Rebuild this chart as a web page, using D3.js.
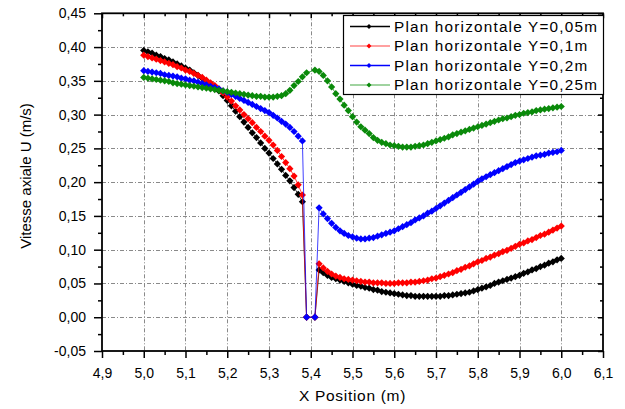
<!DOCTYPE html>
<html>
<head>
<meta charset="utf-8">
<script src="https://cdn.jsdelivr.net/npm/d3@7"></script>
<style>
  body { margin: 0; background: #fff; }
  svg { display: block; }
  text { font-family: "Liberation Sans", Arial, sans-serif; fill: #000; }
</style>
</head>
<body>
<svg id="chart" width="625" height="409"></svg>
<script>
// Measurement positions along X (m); the probe at 5.40 m is not part of the profile.
const xPosition = [
  5.00, 5.01, 5.02, 5.03, 5.04, 5.05, 5.06, 5.07, 5.08, 5.09,
  5.10, 5.11, 5.12, 5.13, 5.14, 5.15, 5.16, 5.17, 5.18, 5.19,
  5.20, 5.21, 5.22, 5.23, 5.24, 5.25, 5.26, 5.27, 5.28, 5.29,
  5.30, 5.31, 5.32, 5.33, 5.34, 5.35, 5.36, 5.37, 5.38, 5.39,
  5.41, 5.42, 5.43, 5.44, 5.45, 5.46, 5.47, 5.48, 5.49,
  5.50, 5.51, 5.52, 5.53, 5.54, 5.55, 5.56, 5.57, 5.58, 5.59,
  5.60, 5.61, 5.62, 5.63, 5.64, 5.65, 5.66, 5.67, 5.68, 5.69,
  5.70, 5.71, 5.72, 5.73, 5.74, 5.75, 5.76, 5.77, 5.78, 5.79,
  5.80, 5.81, 5.82, 5.83, 5.84, 5.85, 5.86, 5.87, 5.88, 5.89,
  5.90, 5.91, 5.92, 5.93, 5.94, 5.95, 5.96, 5.97, 5.98, 5.99,
  6.00
];

// Axial velocity U (m/s) in each horizontal plane
const uY005 = [
  0.395, 0.393, 0.391, 0.388, 0.386, 0.383, 0.381, 0.378, 0.375, 0.372,
  0.369, 0.366, 0.362, 0.358, 0.354, 0.350, 0.345, 0.340, 0.335, 0.328,
  0.321, 0.313, 0.305, 0.297, 0.289, 0.281, 0.273, 0.266, 0.258, 0.250,
  0.243, 0.235, 0.227, 0.219, 0.210, 0.202, 0.192, 0.182, 0.171, 0.000,
  0.000, 0.070, 0.066, 0.062, 0.059, 0.057, 0.055, 0.053, 0.051,
  0.049, 0.047, 0.046, 0.044, 0.043, 0.041, 0.040, 0.038, 0.037, 0.036,
  0.035, 0.034, 0.033, 0.032, 0.032, 0.031, 0.031, 0.031, 0.031, 0.031,
  0.031, 0.031, 0.032, 0.032, 0.033, 0.034, 0.035, 0.036, 0.037, 0.039,
  0.041, 0.043, 0.045, 0.047, 0.050, 0.052, 0.054, 0.056, 0.058, 0.060,
  0.062, 0.065, 0.067, 0.070, 0.072, 0.075, 0.077, 0.080, 0.082, 0.085,
  0.087
];
const uY010 = [
  0.388, 0.386, 0.384, 0.382, 0.380, 0.378, 0.376, 0.374, 0.371, 0.369,
  0.366, 0.364, 0.361, 0.358, 0.355, 0.351, 0.347, 0.343, 0.338, 0.332,
  0.326, 0.320, 0.313, 0.307, 0.300, 0.294, 0.288, 0.281, 0.275, 0.268,
  0.262, 0.255, 0.247, 0.238, 0.229, 0.220, 0.209, 0.196, 0.181, 0.000,
  0.000, 0.079, 0.073, 0.068, 0.064, 0.061, 0.059, 0.057, 0.056,
  0.055, 0.054, 0.053, 0.052, 0.052, 0.051, 0.051, 0.051, 0.050, 0.050,
  0.050, 0.051, 0.051, 0.051, 0.052, 0.052, 0.053, 0.054, 0.055, 0.057,
  0.058, 0.060, 0.062, 0.064, 0.066, 0.069, 0.071, 0.074, 0.076, 0.079,
  0.082, 0.084, 0.087, 0.089, 0.092, 0.094, 0.097, 0.099, 0.102, 0.105,
  0.108, 0.110, 0.113, 0.115, 0.118, 0.121, 0.123, 0.126, 0.129, 0.132,
  0.135
];
const uY020 = [
  0.365, 0.364, 0.363, 0.362, 0.361, 0.359, 0.358, 0.357, 0.356, 0.354,
  0.353, 0.351, 0.350, 0.348, 0.346, 0.344, 0.342, 0.340, 0.338, 0.335,
  0.333, 0.330, 0.327, 0.324, 0.321, 0.318, 0.315, 0.312, 0.309, 0.306,
  0.303, 0.299, 0.295, 0.290, 0.286, 0.281, 0.275, 0.268, 0.261, 0.000,
  0.000, 0.162, 0.153, 0.146, 0.139, 0.133, 0.128, 0.124, 0.121,
  0.119, 0.117, 0.116, 0.116, 0.117, 0.118, 0.120, 0.122, 0.124, 0.126,
  0.128, 0.131, 0.134, 0.137, 0.140, 0.144, 0.147, 0.150, 0.154, 0.157,
  0.161, 0.165, 0.169, 0.173, 0.177, 0.181, 0.185, 0.189, 0.193, 0.197,
  0.201, 0.205, 0.208, 0.211, 0.214, 0.217, 0.220, 0.223, 0.226, 0.229,
  0.231, 0.233, 0.235, 0.237, 0.239, 0.240, 0.241, 0.243, 0.244, 0.245,
  0.247
];
const uY025 = [
  0.355, 0.354, 0.353, 0.352, 0.351, 0.350, 0.349, 0.347, 0.346, 0.345,
  0.344, 0.343, 0.342, 0.341, 0.340, 0.339, 0.338, 0.337, 0.336, 0.335,
  0.334, 0.333, 0.332, 0.331, 0.330, 0.329, 0.328, 0.327, 0.327, 0.326,
  0.326, 0.326, 0.327, 0.328, 0.331, 0.336, 0.343, 0.349, 0.356, 0.362,
  0.366, 0.364, 0.358, 0.350, 0.341, 0.331, 0.323, 0.314, 0.306,
  0.297, 0.289, 0.282, 0.277, 0.272, 0.266, 0.262, 0.259, 0.257, 0.255,
  0.254, 0.253, 0.252, 0.252, 0.252, 0.253, 0.254, 0.255, 0.257, 0.259,
  0.261, 0.263, 0.265, 0.267, 0.270, 0.272, 0.274, 0.276, 0.278, 0.280,
  0.282, 0.284, 0.286, 0.288, 0.290, 0.292, 0.294, 0.295, 0.297, 0.299,
  0.300, 0.302, 0.303, 0.304, 0.306, 0.307, 0.308, 0.309, 0.310, 0.311,
  0.312
];

const seriesNames = [
  "Plan horizontale Y=0,05m",
  "Plan horizontale Y=0,1m",
  "Plan horizontale Y=0,2m",
  "Plan horizontale Y=0,25m"
];
const seriesValues = [uY005, uY010, uY020, uY025];
const seriesColors = ["#000000", "#ff0000", "#0000ff", "#0a8a0a"];
const legendLineColors = ["#000000", "#ff8080", "#0000ff", "#80c480"];

const xTicks = [4.9, 5.0, 5.1, 5.2, 5.3, 5.4, 5.5, 5.6, 5.7, 5.8, 5.9, 6.0, 6.1];
const xMinorTicks = [4.95, 5.05, 5.15, 5.25, 5.35, 5.45, 5.55, 5.65, 5.75, 5.85, 5.95, 6.05];
const yTicks = [-0.05, 0.00, 0.05, 0.10, 0.15, 0.20, 0.25, 0.30, 0.35, 0.40, 0.45];
const yMinorTicks = [-0.025, 0.025, 0.075, 0.125, 0.175, 0.225, 0.275, 0.325, 0.375, 0.425];

const xTitle = "X Position (m)";
const yTitle = "Vitesse axiale U (m/s)";

// ---- layout ----
const svg = d3.select("#chart");
const plotLeft = 102, plotRight = 603, plotTop = 13.3, plotBottom = 351;

const x = d3.scaleLinear().domain([4.9, 6.1]).range([plotLeft, plotRight]);
const y = d3.scaleLinear().domain([-0.05, 0.45]).range([plotBottom, plotTop]);

const comma = (fmt) => (v) => d3.format(fmt)(v).replace(".", ",").replace("−", "-");

// grid
const grid = svg.append("g").attr("stroke", "#8a8a8a").attr("stroke-width", 1)
  .attr("stroke-dasharray", "4,2,1,2");
grid.selectAll("line.v").data(xTicks.slice(1, -1)).join("line")
  .attr("class", "v")
  .attr("x1", d => Math.round(x(d)) + 0.5).attr("x2", d => Math.round(x(d)) + 0.5)
  .attr("y1", plotTop).attr("y2", plotBottom);
grid.selectAll("line.h").data(yTicks.slice(1, -1)).join("line")
  .attr("class", "h")
  .attr("y1", d => Math.round(y(d)) + 0.5).attr("y2", d => Math.round(y(d)) + 0.5)
  .attr("x1", plotLeft).attr("x2", plotRight);

// series lines and markers
const line = d3.line().x((d, i) => x(xPosition[i])).y(d => y(d));
const marker = d3.symbol(d3.symbolSquare, 26);
seriesValues.forEach((vals, k) => {
  const g = svg.append("g");
  g.append("path").datum(vals)
    .attr("d", line)
    .attr("fill", "none")
    .attr("stroke", seriesColors[k])
    .attr("stroke-opacity", 0.75)
    .attr("stroke-width", 1);
  g.selectAll("path.m").data(vals).join("path")
    .attr("class", "m")
    .attr("d", marker)
    .attr("transform", (d, i) => `translate(${x(xPosition[i])},${y(d)}) rotate(45)`)
    .attr("fill", seriesColors[k]);
});

// axes
function styleAxis(g) {
  g.selectAll(".domain").remove();
  g.selectAll(".tick line").attr("stroke", "#000").attr("stroke-width", 1.5);
  g.selectAll(".tick text").attr("font-size", 14)
    .attr("font-family", "Liberation Sans, Arial, sans-serif").attr("fill", "#000");
}

// bottom axis
svg.append("g").attr("transform", `translate(0,${plotBottom})`)
  .call(d3.axisBottom(x).tickValues(xTicks).tickSize(7).tickPadding(10).tickFormat(comma(".1f")))
  .call(styleAxis);
svg.append("g").attr("transform", `translate(0,${plotBottom})`)
  .call(d3.axisBottom(x).tickValues(xMinorTicks).tickSize(4).tickFormat(""))
  .call(styleAxis);
// left axis
svg.append("g").attr("transform", `translate(${plotLeft},0)`)
  .call(d3.axisLeft(y).tickValues(yTicks).tickSize(8).tickPadding(8).tickFormat(comma(".2f")))
  .call(styleAxis);
svg.append("g").attr("transform", `translate(${plotLeft},0)`)
  .call(d3.axisLeft(y).tickValues(yMinorTicks).tickSize(4).tickFormat(""))
  .call(styleAxis);
// top axis, ticks pointing inward
svg.append("g").attr("transform", `translate(0,${plotTop})`)
  .call(d3.axisBottom(x).tickValues(xTicks).tickSize(5).tickFormat(""))
  .call(styleAxis);
svg.append("g").attr("transform", `translate(0,${plotTop})`)
  .call(d3.axisBottom(x).tickValues(xMinorTicks).tickSize(3).tickFormat(""))
  .call(styleAxis);
// right axis, ticks pointing inward
svg.append("g").attr("transform", `translate(${plotRight},0)`)
  .call(d3.axisLeft(y).tickValues(yTicks).tickSize(5).tickFormat(""))
  .call(styleAxis);
svg.append("g").attr("transform", `translate(${plotRight},0)`)
  .call(d3.axisLeft(y).tickValues(yMinorTicks).tickSize(3).tickFormat(""))
  .call(styleAxis);

// frame
svg.append("rect")
  .attr("x", plotLeft).attr("y", plotTop)
  .attr("width", plotRight - plotLeft).attr("height", plotBottom - plotTop)
  .attr("fill", "none").attr("stroke", "#000").attr("stroke-width", 1.8);

// axis titles
svg.append("text")
  .attr("x", (plotLeft + plotRight) / 2).attr("y", 401)
  .attr("text-anchor", "middle").attr("font-size", 15.5)
  .attr("letter-spacing", 0.7)
  .text(xTitle);
svg.append("text")
  .attr("transform", "translate(31,176) rotate(-90)")
  .attr("text-anchor", "middle").attr("font-size", 15)
  .text(yTitle);

// legend
const legend = svg.append("g");
legend.append("rect")
  .attr("x", 343.5).attr("y", 15.5).attr("width", 260).attr("height", 79)
  .attr("fill", "#fff").attr("stroke", "#000").attr("stroke-width", 1.2);
const rowY = d3.scaleLinear().domain([0, 3]).range([26.5, 85]);
seriesNames.forEach((name, k) => {
  const cy = rowY(k);
  legend.append("line")
    .attr("x1", 350).attr("x2", 390).attr("y1", cy).attr("y2", cy)
    .attr("stroke", legendLineColors[k]).attr("stroke-width", 1.5);
  legend.append("path")
    .attr("d", d3.symbol(d3.symbolSquare, 12)())
    .attr("transform", `translate(369,${cy}) rotate(45)`)
    .attr("fill", seriesColors[k]);
  legend.append("text")
    .attr("x", 394).attr("y", cy + 5.3)
    .attr("font-size", 15.3).attr("letter-spacing", 1.2)
    .text(name);
});
</script>
</body>
</html>
